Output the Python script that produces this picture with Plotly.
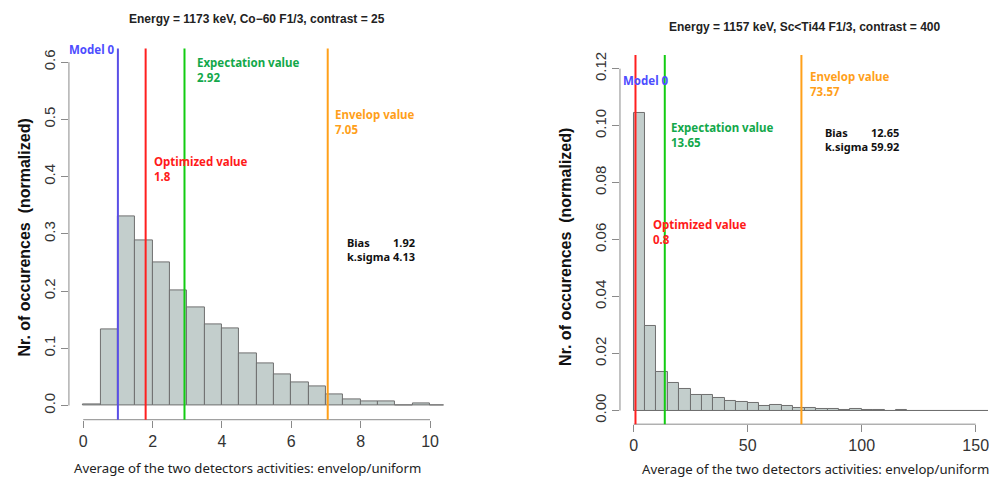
import plotly.graph_objects as go

W, H = 989, 486

# ---- Left panel: Co-60, 1173 keV ----
left_bin_width = 0.5
left_bin_starts = [0.0, 0.5, 1.0, 1.5, 2.0, 2.5, 3.0, 3.5, 4.0, 4.5, 5.0,
                   5.5, 6.0, 6.5, 7.0, 7.5, 8.0, 8.5, 9.0, 9.5, 10.0]
left_density = [0.002, 0.133, 0.331, 0.289, 0.250, 0.201, 0.172, 0.141, 0.135,
                0.091, 0.073, 0.054, 0.040, 0.034, 0.020, 0.011, 0.0065, 0.0065,
                0.001, 0.003, 0.001]
left_model0 = 1.0
left_optimized = 1.8
left_expectation = 2.92
left_envelop = 7.05
left_bias = 1.92
left_ksigma = 4.13
left_xticks = [0, 2, 4, 6, 8, 10]
left_yticks = [0.0, 0.1, 0.2, 0.3, 0.4, 0.5, 0.6]
left_ytick_text = ["0.0", "0.1", "0.2", "0.3", "0.4", "0.5", "0.6"]

# ---- Right panel: Sc<Ti44, 1157 keV ----
right_bin_width = 5
right_bin_starts = list(range(0, 160, 5))
right_density = [0.1044, 0.0298, 0.0134, 0.0098, 0.0074, 0.0053, 0.0053, 0.0044,
                 0.0032, 0.0030, 0.0027, 0.0017, 0.0021, 0.0016, 0.0010, 0.0009,
                 0.0007, 0.0004, 0.0003, 0.0006, 0.0002, 0.0002, 0.0, 0.0002,
                 0.0, 0.0, 0.0, 0.0, 0.0, 0.0, 0.0, 0.0]
right_optimized = 0.8
right_expectation = 13.65
right_envelop = 73.57
right_bias = 12.65
right_ksigma = 59.92
right_xticks = [0, 50, 100, 150]
right_yticks = [0.00, 0.02, 0.04, 0.06, 0.08, 0.10, 0.12]
right_ytick_text = ["0.00", "0.02", "0.04", "0.06", "0.08", "0.10", "0.12"]

left_title = "Energy = 1173 keV, Co\u221260 F1/3, contrast = 25"
right_title = "Energy = 1157 keV, Sc&lt;Ti44 F1/3, contrast = 400"
x_title = "Average of the two detectors activities: envelop/uniform"
y_title = "Nr. of occurences  (normalized)"

BAR_FILL = "#c3cecc"
BAR_EDGE = "#6f6f6f"
AXIS_GREY = "#8a8a8a"
TICK_FONT = "Liberation Sans, Arial, sans-serif"
NOTE_FONT = "Noto Sans, Open Sans, sans-serif"
BLUE_LINE, BLUE_TEXT = "#5a4fe6", "#4d4dff"
RED_LINE, RED_TEXT = "#ff1f1f", "#ff1a1a"
GREEN_LINE, GREEN_TEXT = "#12cc12", "#12a84a"
ORANGE_LINE, ORANGE_TEXT = "#ffa01a", "#ff9f1a"


def px(x):
    return x / W


def py(y):
    return 1 - y / H


fig = go.Figure()

fig.add_trace(go.Bar(
    x=[s + left_bin_width / 2 for s in left_bin_starts], y=left_density,
    width=left_bin_width, marker=dict(color=BAR_FILL, line=dict(color=BAR_EDGE, width=1)),
    xaxis="x", yaxis="y", showlegend=False, hoverinfo="skip"))
fig.add_trace(go.Bar(
    x=[s + right_bin_width / 2 for s in right_bin_starts], y=right_density,
    width=right_bin_width, marker=dict(color=BAR_FILL, line=dict(color=BAR_EDGE, width=1)),
    xaxis="x2", yaxis="y2", showlegend=False, hoverinfo="skip"))

shapes = []
# zero-count bins show as a baseline along the histogram
shapes.append(dict(type="line", xref="x2", yref="y2",
                   x0=right_bin_starts[0], x1=right_bin_starts[-1] + right_bin_width,
                   y0=0, y1=0, line=dict(color=BAR_EDGE, width=1), layer="above"))
# R-style axis lines spanning only the tick range
shapes.append(dict(type="line", xref="x", yref="y domain", x0=left_xticks[0], x1=left_xticks[-1],
                   y0=0, y1=0, line=dict(color=AXIS_GREY, width=1)))
shapes.append(dict(type="line", xref="x domain", yref="y", x0=0, x1=0,
                   y0=left_yticks[0], y1=left_yticks[-1], line=dict(color=AXIS_GREY, width=1)))
shapes.append(dict(type="line", xref="x2", yref="y2 domain", x0=right_xticks[0], x1=right_xticks[-1],
                   y0=0, y1=0, line=dict(color=AXIS_GREY, width=1)))
shapes.append(dict(type="line", xref="x2 domain", yref="y2", x0=0, x1=0,
                   y0=right_yticks[0], y1=right_yticks[-1], line=dict(color=AXIS_GREY, width=1)))


def vline(xref, yref, xv, color):
    shapes.append(dict(type="line", xref=xref, yref=yref + " domain", x0=xv, x1=xv, y0=0, y1=1,
                       line=dict(color=color, width=2), layer="above"))


vline("x", "y", left_model0, BLUE_LINE)
vline("x", "y", left_optimized, RED_LINE)
vline("x", "y", left_expectation, GREEN_LINE)
vline("x", "y", left_envelop, ORANGE_LINE)
vline("x2", "y2", right_optimized, RED_LINE)
vline("x2", "y2", right_expectation, GREEN_LINE)
vline("x2", "y2", right_envelop, ORANGE_LINE)

ann = []


def note(x, y, text, color, xanchor="left", size=11.5, bold=True):
    ann.append(dict(xref="paper", yref="paper", x=px(x), y=py(y), text=text, showarrow=False,
                    xanchor=xanchor, yanchor="top", align="left",
                    font=dict(family=NOTE_FONT, size=size, color=color,
                              weight="bold" if bold else "normal")))


# left panel notes
note(117, 37, "Model 0", BLUE_TEXT, xanchor="right")
note(195, 50, f"Expectation value<br>{left_expectation}", GREEN_TEXT)
note(333, 103, f"Envelop value<br>{left_envelop}", ORANGE_TEXT)
note(152, 150, f"Optimized value<br>{left_optimized}", RED_TEXT)
note(345, 231, "Bias<br>k.sigma", "#111111", size=11)
note(391, 231, f"{left_bias}<br>{left_ksigma}", "#111111", size=11)

# right panel notes
note(622, 68, "Model 0", BLUE_TEXT)
note(670, 116, f"Expectation value<br>{right_expectation}", GREEN_TEXT)
note(809, 64, f"Envelop value<br>{right_envelop}", ORANGE_TEXT)
note(824, 121, "Bias<br>k.sigma", "#111111", size=11)
note(870, 121, f"{right_bias}<br>{right_ksigma}", "#111111", size=11)
note(652, 213, f"Optimized value<br>{right_optimized}", RED_TEXT)

# titles
for cx, cy, t in [(257, 16, left_title), (806, 24, right_title)]:
    ann.append(dict(xref="paper", yref="paper", x=px(cx), y=py(cy), text=t, showarrow=False,
                    xanchor="center", yanchor="middle",
                    font=dict(family=TICK_FONT, size=12, color="#222222", weight="bold")))

# x-axis titles
for cx, cy in [(248, 468), (816, 469)]:
    ann.append(dict(xref="paper", yref="paper", x=px(cx), y=py(cy), text=x_title, showarrow=False,
                    xanchor="center", yanchor="middle",
                    font=dict(family=NOTE_FONT, size=13.2, color="#222222")))

# y-axis titles
for cx, cy in [(25, 236), (566, 245)]:
    ann.append(dict(xref="paper", yref="paper", x=px(cx), y=py(cy), text=y_title, showarrow=False,
                    xanchor="center", yanchor="middle", textangle=-90,
                    font=dict(family=TICK_FONT, size=16, color="#111111", weight="bold")))

axis_common = dict(showgrid=False, zeroline=False, showline=False, ticks="outside",
                   ticklen=7, tickwidth=1, tickcolor=AXIS_GREY, ticklabeloverflow="allow")
xtick_font = dict(family=TICK_FONT, size=16, color="#333333")
ytick_font = dict(family=TICK_FONT, size=15, color="#333333")

fig.update_layout(
    width=W, height=H, margin=dict(l=0, r=0, t=0, b=0),
    paper_bgcolor="white", plot_bgcolor="white", bargap=0,
    xaxis=dict(domain=[px(69), px(444)], range=[-0.412, 10.39], anchor="y",
               tickvals=left_xticks, tickfont=xtick_font, **axis_common),
    yaxis=dict(domain=[py(419.3), py(45.7)], range=[-0.0248, 0.624], anchor="x",
               tickvals=left_yticks, ticktext=left_ytick_text, tickangle=-90,
               tickfont=ytick_font, **axis_common),
    xaxis2=dict(domain=[px(620.6), 1.0], range=[-6.0, 155.4], anchor="y2",
                tickvals=right_xticks, tickfont=xtick_font, **axis_common),
    yaxis2=dict(domain=[py(423.8), py(52.3)], range=[-0.0048, 0.1248], anchor="x2",
                tickvals=right_yticks, ticktext=right_ytick_text, tickangle=-90,
                tickfont=ytick_font, **axis_common),
    shapes=shapes, annotations=ann,
)

fig.write_html("out.html")
